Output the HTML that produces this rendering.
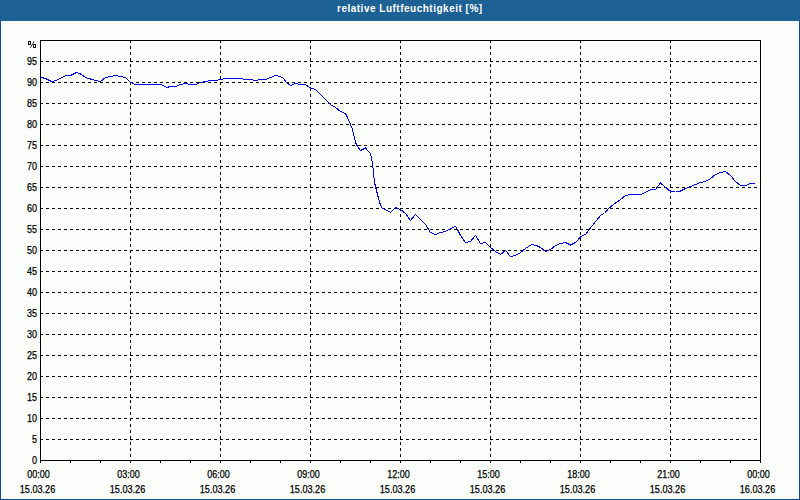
<!DOCTYPE html>
<html><head><meta charset="utf-8"><style>
html,body{margin:0;padding:0;background:#fff;}
#w{position:relative;width:800px;height:500px;overflow:hidden;background:#fcfefc;}
#hd{position:absolute;left:0;top:0;width:800px;height:21px;background:#1e6194;}
#bl{position:absolute;left:0;top:21px;width:1px;height:479px;background:#0e4d87;}
#br{position:absolute;left:799px;top:21px;width:1px;height:479px;background:#0e4d87;}
#bb{position:absolute;left:0;top:499px;width:800px;height:1px;background:#0e4d87;}
#tt{position:absolute;left:337px;top:3px;font:bold 10px "Liberation Sans",sans-serif;letter-spacing:0.5px;color:#fff;white-space:nowrap;line-height:12px;}
svg{position:absolute;left:0;top:0;}
</style></head><body><div id="w">
<div id="hd"></div><div id="bl"></div><div id="br"></div><div id="bb"></div>
<div id="tt">relative Luftfeuchtigkeit [%]</div>
<svg width="800" height="500" viewBox="0 0 800 500" shape-rendering="crispEdges">
<path d="M41 439.5H760M41 418.5H760M41 397.5H760M41 376.5H760M41 355.5H760M41 334.5H760M41 313.5H760M41 292.5H760M41 271.5H760M41 250.5H760M41 229.5H760M41 208.5H760M41 187.5H760M41 166.5H760M41 145.5H760M41 124.5H760M41 103.5H760M41 82.5H760M41 61.5H760" stroke="#000" stroke-width="1" stroke-dasharray="3 3" stroke-dashoffset="1" fill="none"/>
<path d="M130.5 41V460M220.5 41V460M310.5 41V460M400.5 41V460M490.5 41V460M580.5 41V460M670.5 41V460" stroke="#000" stroke-width="1" stroke-dasharray="3 3" stroke-dashoffset="1" fill="none"/>
<path d="M40.5 460V463M70.5 460V463M100.5 460V463M130.5 460V463M160.5 460V463M190.5 460V463M220.5 460V463M250.5 460V463M280.5 460V463M310.5 460V463M340.5 460V463M370.5 460V463M400.5 460V463M430.5 460V463M460.5 460V463M490.5 460V463M520.5 460V463M550.5 460V463M580.5 460V463M610.5 460V463M640.5 460V463M670.5 460V463M700.5 460V463M730.5 460V463M760.5 460V463" stroke="#000" stroke-width="1" fill="none"/>
<rect x="40.5" y="40.5" width="720" height="420" stroke="#000" stroke-width="1" fill="none"/>
<polyline points="41.5,77.5 45.5,78.5 50.5,81 52.5,81.5 55.5,80.5 60.5,78.5 65.5,75.5 70.5,75.5 76.5,72.5 80.5,74 85.5,77.5 90.5,79 95.5,80.5 100.5,81.5 105.5,77.5 110.5,76.5 115.5,75.5 120.5,76.5 125.5,77.5 130.5,82.5 135.5,84.5 140.5,84.5 145.5,84.5 150.5,84.5 155.5,84.5 160.5,84.5 163.5,85.5 166.5,87.5 170.5,86.5 175.5,86.5 180.5,84.5 185.5,83.5 190.5,84.5 195.5,84.5 200.5,82.5 205.5,81.5 210.5,80.5 215.5,80.5 220.5,79.5 225.5,78.5 230.5,78.5 235.5,78.5 240.5,78.5 245.5,79.5 250.5,79.5 255.5,80.5 260.5,79.5 265.5,79.5 270.5,77.5 275.5,75.5 280.5,76.5 283.5,78.5 286.5,82.5 290.5,85.5 295.5,83.5 300.5,84.5 305.5,84.5 310.5,88 315.5,89.5 320.5,94.5 325.5,99.5 330.5,104.5 335.5,107.5 340.5,111.5 345.5,113.5 347.5,117.5 350.5,124.5 352.5,129.5 355.5,142.5 357.5,146.5 360.5,150.5 365.5,148 367.5,150.5 370.5,153.5 372.5,163.5 374,177.5 375,184.5 378,196.5 380,203.5 382,208 385.5,209.5 390.5,212.5 395.5,207.5 400.5,209.5 405.5,213.5 410.5,220.5 415.5,214.5 420.5,219.5 425.5,224.5 430.5,232.5 435.5,234.5 440.5,232.5 445.5,231.5 450.5,228.5 455.5,226.5 457.5,229.5 460.5,235.5 465.5,242.5 470.5,241.5 475.5,235.5 480.5,243.5 485.5,242.5 490.5,247.5 495.5,251.5 500.5,254.5 505.5,250.5 510.5,256.5 515.5,255.5 520.5,252.5 525.5,248.5 531.5,244.5 536.5,245.5 540.5,247.5 545.5,251.5 550.5,249.5 555.5,245.5 560.5,243.5 565.5,242.5 570.5,245 575.5,242.5 580.5,237 582.5,235.5 585.5,234.5 590.5,228 595.5,221.5 601.5,214.5 604.5,213.5 608.5,208.5 613.5,204.5 620.5,199.5 625.5,195.5 630.5,194.5 635.5,194.5 640.5,194.5 645.5,192.5 650.5,189.5 655.5,189.5 660.5,183 665.5,187.5 670.5,191.5 675.5,191 680.5,191 685.5,188.5 690.5,186.5 695.5,184.5 700.5,182.5 705.5,181.5 710.5,178.5 715.5,174.5 720.5,172.5 725.5,171.5 730.5,175.5 735.5,181.5 740.5,185.5 745.5,185.5 750.5,183.5 754.5,183.5" stroke="#0000e6" stroke-width="1" fill="none" shape-rendering="crispEdges"/>
<g font-family="Liberation Sans" font-size="10" fill="#000" stroke="#000" stroke-width="0.25" text-anchor="end">
<text x="37" y="464" textLength="5" lengthAdjust="spacingAndGlyphs">0</text>
<text x="37" y="443" textLength="5" lengthAdjust="spacingAndGlyphs">5</text>
<text x="37" y="422" textLength="10" lengthAdjust="spacingAndGlyphs">10</text>
<text x="37" y="401" textLength="10" lengthAdjust="spacingAndGlyphs">15</text>
<text x="37" y="380" textLength="10" lengthAdjust="spacingAndGlyphs">20</text>
<text x="37" y="359" textLength="10" lengthAdjust="spacingAndGlyphs">25</text>
<text x="37" y="338" textLength="10" lengthAdjust="spacingAndGlyphs">30</text>
<text x="37" y="317" textLength="10" lengthAdjust="spacingAndGlyphs">35</text>
<text x="37" y="296" textLength="10" lengthAdjust="spacingAndGlyphs">40</text>
<text x="37" y="275" textLength="10" lengthAdjust="spacingAndGlyphs">45</text>
<text x="37" y="254" textLength="10" lengthAdjust="spacingAndGlyphs">50</text>
<text x="37" y="233" textLength="10" lengthAdjust="spacingAndGlyphs">55</text>
<text x="37" y="212" textLength="10" lengthAdjust="spacingAndGlyphs">60</text>
<text x="37" y="191" textLength="10" lengthAdjust="spacingAndGlyphs">65</text>
<text x="37" y="170" textLength="10" lengthAdjust="spacingAndGlyphs">70</text>
<text x="37" y="149" textLength="10" lengthAdjust="spacingAndGlyphs">75</text>
<text x="37" y="128" textLength="10" lengthAdjust="spacingAndGlyphs">80</text>
<text x="37" y="107" textLength="10" lengthAdjust="spacingAndGlyphs">85</text>
<text x="37" y="86" textLength="10" lengthAdjust="spacingAndGlyphs">90</text>
<text x="37" y="65" textLength="10" lengthAdjust="spacingAndGlyphs">95</text>
</g><g fill="none" stroke="#1c1c1c" stroke-width="1"><rect x="28.5" y="41.5" width="2" height="3" rx="0.6"/><rect x="33.5" y="44.5" width="2" height="3" rx="0.6"/><path d="M34.2 41.3L30.3 47.8" shape-rendering="auto" stroke-width="0.9"/>
</g>
<g font-family="Liberation Sans" font-size="10" fill="#000" stroke="#000" stroke-width="0.25" text-anchor="middle">
<text x="38.5" y="478" textLength="22.5" lengthAdjust="spacingAndGlyphs">00:00</text>
<text x="37.5" y="493" textLength="35.5" lengthAdjust="spacingAndGlyphs">15.03.26</text>
<text x="128.5" y="478" textLength="22.5" lengthAdjust="spacingAndGlyphs">03:00</text>
<text x="127.5" y="493" textLength="35.5" lengthAdjust="spacingAndGlyphs">15.03.26</text>
<text x="218.5" y="478" textLength="22.5" lengthAdjust="spacingAndGlyphs">06:00</text>
<text x="217.5" y="493" textLength="35.5" lengthAdjust="spacingAndGlyphs">15.03.26</text>
<text x="308.5" y="478" textLength="22.5" lengthAdjust="spacingAndGlyphs">09:00</text>
<text x="307.5" y="493" textLength="35.5" lengthAdjust="spacingAndGlyphs">15.03.26</text>
<text x="398.5" y="478" textLength="22.5" lengthAdjust="spacingAndGlyphs">12:00</text>
<text x="397.5" y="493" textLength="35.5" lengthAdjust="spacingAndGlyphs">15.03.26</text>
<text x="488.5" y="478" textLength="22.5" lengthAdjust="spacingAndGlyphs">15:00</text>
<text x="487.5" y="493" textLength="35.5" lengthAdjust="spacingAndGlyphs">15.03.26</text>
<text x="578.5" y="478" textLength="22.5" lengthAdjust="spacingAndGlyphs">18:00</text>
<text x="577.5" y="493" textLength="35.5" lengthAdjust="spacingAndGlyphs">15.03.26</text>
<text x="668.5" y="478" textLength="22.5" lengthAdjust="spacingAndGlyphs">21:00</text>
<text x="667.5" y="493" textLength="35.5" lengthAdjust="spacingAndGlyphs">15.03.26</text>
<text x="758.5" y="478" textLength="22.5" lengthAdjust="spacingAndGlyphs">00:00</text>
<text x="757.5" y="493" textLength="35.5" lengthAdjust="spacingAndGlyphs">16.03.26</text>
</g>
</svg>
</div></body></html>
